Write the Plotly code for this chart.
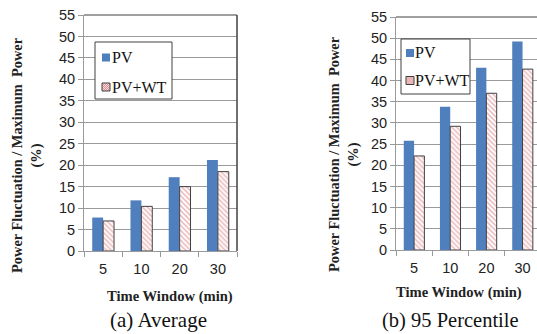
import plotly.graph_objects as go

categories = ["5", "10", "20", "30"]
avg_pv = [7.8, 11.8, 17.2, 21.2]
avg_pvwt = [7.0, 10.4, 15.0, 18.5]
p95_pv = [25.8, 33.8, 43.0, 49.2]
p95_pvwt = [22.2, 29.2, 37.0, 42.7]
y_ticks = list(range(0, 60, 5))
series_names = ["PV", "PV+WT"]

W, H = 537, 334
PV_COLOR = "#4f7fbd"
HATCH_FG = "#d9797e"
SERIF = "Liberation Serif"
SANS = "Liberation Sans"

def px(x):
    return x / W

def py(y):
    return 1 - y / H

fig = go.Figure()

def add_pair(pv, pvwt, xa, ya):
    fig.add_trace(go.Bar(x=categories, y=pv, name=series_names[0], xaxis=xa, yaxis=ya,
                         marker=dict(color=PV_COLOR, line=dict(width=0)), showlegend=False))
    fig.add_trace(go.Bar(x=categories, y=pvwt, name=series_names[1], xaxis=xa, yaxis=ya,
                         marker=dict(color="white",
                                     pattern=dict(shape="\\", fgcolor=HATCH_FG, bgcolor="white",
                                                  size=3.5, solidity=0.45),
                                     line=dict(color="#404040", width=1)),
                         showlegend=False))

add_pair(avg_pv, avg_pvwt, "x", "y")
add_pair(p95_pv, p95_pvwt, "x2", "y2")

xcommon = dict(type="category", tickson="boundaries", ticks="outside", ticklen=5,
               tickcolor="#9a9a9a", showline=True, linecolor="#9a9a9a", linewidth=1,
               showgrid=False, automargin=False, ticklabelstandoff=5,
               tickfont=dict(family=SANS, size=14.5, color="#222"))
ycommon = dict(range=[0, 55], tickvals=y_ticks, ticks="outside", ticklen=5, tickcolor="#9a9a9a",
               showline=True, linecolor="#9a9a9a", linewidth=1, showgrid=True,
               gridcolor="#9a9a9a", gridwidth=1, zeroline=False, automargin=False,
               tickfont=dict(family=SANS, size=14.5, color="#222"))

fig.update_layout(
    width=W, height=H, margin=dict(l=0, r=0, t=0, b=0, autoexpand=False),
    paper_bgcolor="white", plot_bgcolor="white",
    barmode="group", bargap=0.43, bargroupgap=0, showlegend=False,
    xaxis=dict(domain=[px(84), px(237)], anchor="y", range=[-0.5, 3.5], **xcommon),
    yaxis=dict(domain=[py(251), py(15)], anchor="x", **ycommon),
    xaxis2=dict(domain=[px(396), 1], anchor="y2", range=[-0.5, 3.4], **xcommon),
    yaxis2=dict(domain=[py(250), py(17)], anchor="x2", **ycommon),
)

# dark frame lines (top of both plots, right of left plot)
fig.add_shape(type="line", xref="x domain", yref="y domain", x0=0, x1=1, y0=1, y1=1,
              line=dict(color="#404040", width=1))
fig.add_shape(type="line", xref="x domain", yref="y domain", x0=1, x1=1, y0=0, y1=1,
              line=dict(color="#404040", width=1.5))
fig.add_shape(type="line", xref="x2 domain", yref="y2 domain", x0=0, x1=1, y0=1, y1=1,
              line=dict(color="#404040", width=1))

# legends (drawn as boxes with symbols and text)
def legend(box, sym_x, y1, y2, text_x):
    x0, yb0, x1, yb1 = box
    fig.add_shape(type="rect", xref="paper", yref="paper", x0=px(x0), x1=px(x1),
                  y0=py(yb1), y1=py(yb0), line=dict(color="#404040", width=1), fillcolor="white")
    s = 8
    fig.add_shape(type="rect", xref="paper", yref="paper", x0=px(sym_x), x1=px(sym_x + s),
                  y0=py(y1 + s / 2), y1=py(y1 - s / 2), line=dict(width=0), fillcolor=PV_COLOR)
    fig.add_shape(type="rect", xref="paper", yref="paper", x0=px(sym_x), x1=px(sym_x + s),
                  y0=py(y2 + s / 2), y1=py(y2 - s / 2), line=dict(width=0), fillcolor="#f6dede")
    top = y2 - s / 2
    for k in range(-6, 9, 2):
        ax, ay = sym_x + max(k, 0), top + max(-k, 0)
        ln = min(s - max(k, 0), s - max(-k, 0))
        if ln <= 0:
            continue
        fig.add_shape(type="line", xref="paper", yref="paper",
                      x0=px(ax), y0=py(ay), x1=px(ax + ln), y1=py(ay + ln),
                      line=dict(color=HATCH_FG, width=0.8))
    fig.add_shape(type="rect", xref="paper", yref="paper", x0=px(sym_x), x1=px(sym_x + s),
                  y0=py(y2 + s / 2), y1=py(y2 - s / 2), line=dict(color="#404040", width=1))
    for name, yy in zip(series_names, [y1, y2]):
        fig.add_annotation(xref="paper", yref="paper", x=px(text_x), y=py(yy),
                           xanchor="left", yanchor="middle", showarrow=False, text=name,
                           font=dict(family=SERIF, size=16, color="#111"))

legend((95, 42, 172, 99), 102, 57.5, 87, 110)
legend((401, 39, 470, 94), 406, 53, 80.5, 413)

ytitle = "<b>Power Fluctuation / Maximum  Power<br>(%)</b>"
ann = [
    dict(x=27, y=155, text=ytitle, angle=-90, font=dict(family=SERIF, size=14.4, color="#222")),
    dict(x=344, y=154, text=ytitle, angle=-90, font=dict(family=SERIF, size=14.4, color="#222")),
    dict(x=170, y=296, text="<b>Time Window (min)</b>", angle=0, font=dict(family=SERIF, size=14.6, color="#222")),
    dict(x=459, y=292, text="<b>Time Window (min)</b>", angle=0, font=dict(family=SERIF, size=14.6, color="#222")),
    dict(x=158, y=320, text="(a) Average", angle=0, font=dict(family=SERIF, size=21, color="#111")),
    dict(x=450, y=320, text="(b) 95 Percentile", angle=0, font=dict(family=SERIF, size=20.5, color="#111")),
]
for a in ann:
    fig.add_annotation(xref="paper", yref="paper", x=px(a["x"]), y=py(a["y"]),
                       xanchor="center", yanchor="middle", showarrow=False,
                       text=a["text"], textangle=a["angle"], font=a["font"])

fig.write_html("out.html", config={"displayModeBar": False},
               post_script="document.body.style.margin='0';document.body.style.overflow='hidden';")
